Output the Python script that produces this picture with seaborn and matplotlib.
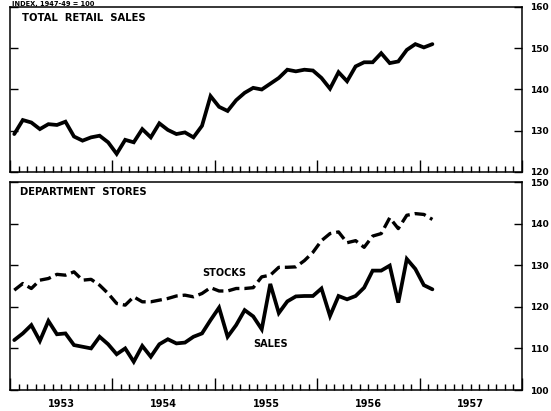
import numpy as np
import pandas as pd
import matplotlib
matplotlib.use("Agg")
import matplotlib.pyplot as plt
from matplotlib.ticker import FixedLocator, MultipleLocator
import seaborn as sns

# ---- data (monthly, Jan 1953 - Feb 1957) ----
retail_sales = [129.2, 132.6, 132.0, 130.4, 131.6, 131.4, 132.2, 128.6, 127.6, 128.4,
                128.8, 127.2, 124.4, 127.8, 127.2, 130.4, 128.4, 131.8, 130.2, 129.2,
                129.6, 128.4, 131.2, 138.4, 135.8, 134.8, 137.4, 139.2, 140.4, 140.0,
                141.4, 142.8, 144.8, 144.4, 144.8, 144.6, 142.8, 140.2, 144.2, 142.0,
                145.6, 146.6, 146.6, 148.8, 146.4, 146.8, 149.6, 151.0, 150.2, 151.0]
dept_stocks = [124.0, 125.6, 124.4, 126.4, 126.8, 127.8, 127.6, 128.4, 126.4, 126.6,
               125.2, 123.2, 120.8, 120.4, 122.4, 121.2, 121.2, 121.6, 122.0, 122.6,
               122.8, 122.4, 123.2, 124.6, 123.8, 123.8, 124.4, 124.4, 124.6, 127.2,
               127.6, 129.5, 129.5, 129.6, 131.1, 133.1, 135.9, 137.6, 138.0, 135.4,
               135.9, 134.3, 137.0, 137.6, 141.4, 138.8, 142.0, 142.4, 142.2, 141.0]
dept_sales = [112.0, 113.6, 115.6, 111.8, 116.6, 113.4, 113.6, 110.8, 110.4, 110.0,
              112.8, 111.0, 108.6, 110.0, 106.8, 110.6, 108.0, 111.0, 112.2, 111.2,
              111.4, 112.8, 113.6, 116.8, 119.8, 112.8, 115.6, 119.2, 117.7, 114.6,
              125.5, 118.5, 121.3, 122.5, 122.6, 122.6, 124.4, 117.8, 122.6, 121.8,
              122.6, 124.6, 128.7, 128.7, 129.9, 121.0, 131.5, 129.1, 125.2, 124.2]
years = ["1953", "1954", "1955", "1956", "1957"]
top_ticks = [120, 130, 140, 150, 160]
bottom_ticks = [100, 110, 120, 130, 140, 150]

months = pd.date_range("1953-01-01", periods=len(retail_sales), freq="MS")
xpos = months.year + (months.month - 0.5) / 12.0
df = pd.DataFrame({"x": xpos, "retail": retail_sales,
                   "stocks": dept_stocks, "sales": dept_sales})

sns.set_style("white")
plt.rcParams["font.family"] = ["DejaVu Sans"]
plt.rcParams["text.color"] = "black"

W, H = 551, 411
fig = plt.figure(figsize=(W / 100, H / 100), dpi=100)
ax1 = fig.add_axes([10 / W, 1 - 172 / H, 512 / W, 165 / H])
ax2 = fig.add_axes([10 / W, 1 - 390 / H, 512 / W, 208 / H])

sns.lineplot(data=df, x="x", y="retail", ax=ax1, color="black",
             linewidth=2.7, solid_joinstyle="miter")
sns.lineplot(data=df, x="x", y="sales", ax=ax2, color="black",
             linewidth=2.7, solid_joinstyle="miter")
sns.lineplot(data=df, x="x", y="stocks", ax=ax2, color="black",
             linewidth=2.4, linestyle=(0, (3.4, 1.5)))

y0 = int(years[0])
for ax, ylim, ticks in [(ax1, (120, 160), top_ticks), (ax2, (100, 150), bottom_ticks)]:
    ax.set_xlim(y0, y0 + len(years))
    ax.set_ylim(*ylim)
    ax.set_xlabel("")
    ax.set_ylabel("")
    for s in ax.spines.values():
        s.set_visible(True)
        s.set_color("black")
        s.set_linewidth(1.1)
    ax.yaxis.set_major_locator(FixedLocator(ticks))
    ax.set_yticklabels([str(t) for t in ticks])
    ax.tick_params(axis="y", which="both", left=True, right=True,
                   labelleft=False, labelright=True, direction="in",
                   length=6, width=1, pad=6, labelsize=6.5, colors="black")
    for lab in ax.get_yticklabels():
        lab.set_fontweight("bold")
    ax.xaxis.set_major_locator(MultipleLocator(1))
    ax.xaxis.set_minor_locator(MultipleLocator(1 / 12))
    ax.tick_params(axis="x", which="major", bottom=True, top=False,
                   direction="in", length=9, width=1, labelbottom=False, colors="black")
    ax.tick_params(axis="x", which="minor", bottom=True, top=False,
                   direction="in", length=4.5, width=1, colors="black")

ax1.text(12 / 512, 1 - 6 / 165, "TOTAL  RETAIL  SALES", transform=ax1.transAxes,
         fontsize=7.2, fontweight="bold", ha="left", va="top", color="black")
ax2.text(10 / 512, 1 - 5 / 208, "DEPARTMENT  STORES", transform=ax2.transAxes,
         fontsize=7.2, fontweight="bold", ha="left", va="top", color="black")
ax2.text(1953 + (224 - 10) / 512 * 5, 128.1, "STOCKS", fontsize=7,
         fontweight="bold", ha="center", va="center", color="black")
ax2.text(1953 + (271 - 10) / 512 * 5, 111.1, "SALES", fontsize=7,
         fontweight="bold", ha="center", va="center", color="black")

for i, yr in enumerate(years):
    ax2.text(y0 + i + 0.5, -0.045, yr, transform=ax2.get_xaxis_transform(),
             fontsize=7, fontweight="bold", ha="center", va="top", color="black")

fig.text(12 / W, 1 - 6.3 / H, "INDEX, 1947-49 = 100", fontsize=4.8, fontweight="bold",
         ha="left", va="baseline", color="black")

fig.savefig("out.png", dpi=100, facecolor="white")
